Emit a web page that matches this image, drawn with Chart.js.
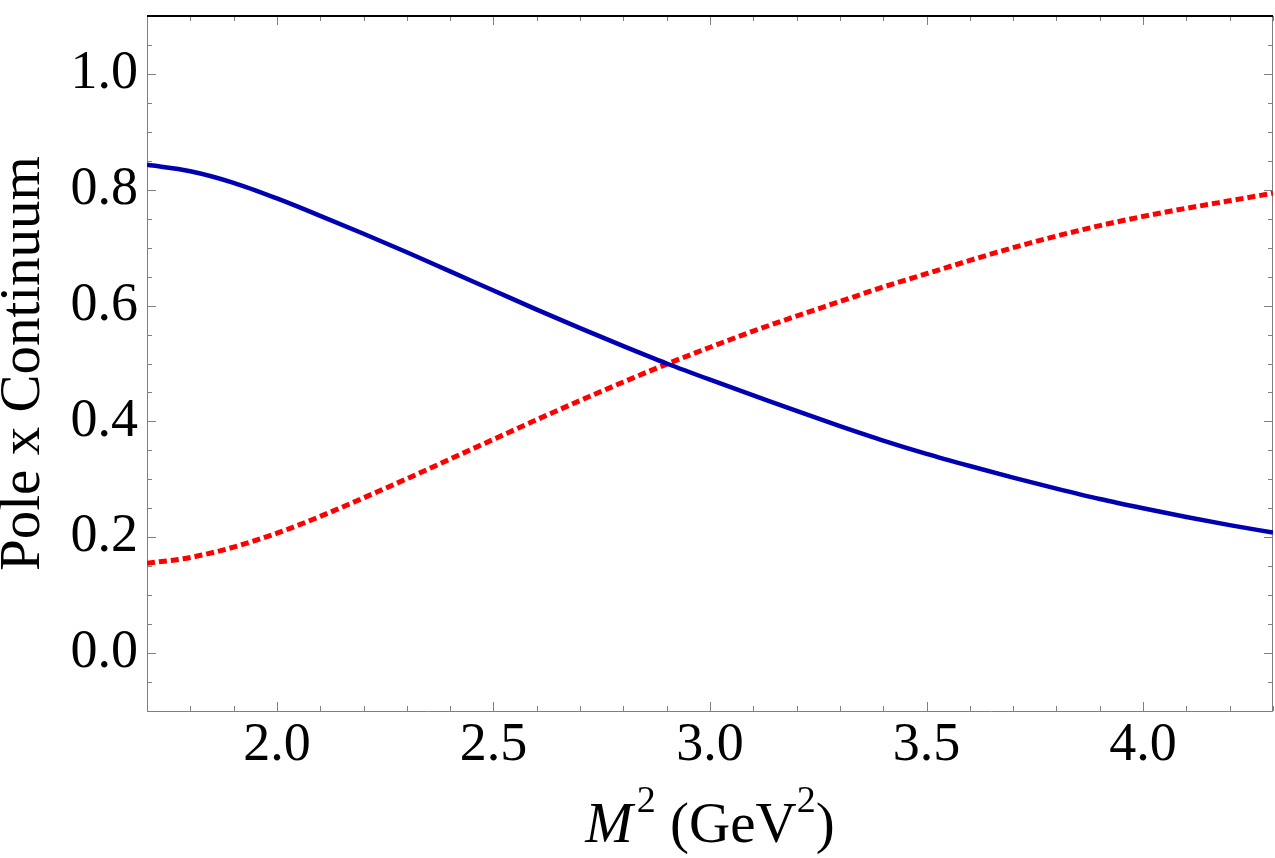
<!DOCTYPE html>
<html>
<head>
<meta charset="utf-8">
<script src="https://cdn.jsdelivr.net/npm/chart.js@4"></script>
<style>
  html, body { margin: 0; padding: 0; background: #fff; }
  #box { width: 1275px; height: 858px; }
</style>
</head>
<body>
<div id="box"><canvas id="grafico"></canvas></div>
<script>
// Borel mass M^2 (GeV^2)
let M2 = [1.7, 1.8, 1.9, 2.0, 2.1, 2.2, 2.3, 2.4, 2.5, 2.6, 2.7, 2.8, 2.9, 3.0,
          3.1, 3.2, 3.3, 3.4, 3.5, 3.6, 3.7, 3.8, 3.9, 4.0, 4.1, 4.2, 4.3];
// pole contribution (solid blue)
let Pole = [0.843, 0.832, 0.812, 0.785, 0.755, 0.724, 0.692, 0.659, 0.626, 0.593, 0.561, 0.530, 0.500, 0.472,
            0.445, 0.418, 0.392, 0.367, 0.344, 0.323, 0.303, 0.284, 0.266, 0.250, 0.235, 0.221, 0.208];
// continuum contribution (dotted red)
let Continuum = [0.155, 0.165, 0.183, 0.207, 0.236, 0.268, 0.301, 0.335, 0.369, 0.403, 0.436, 0.468, 0.499, 0.528,
                 0.556, 0.582, 0.607, 0.632, 0.655, 0.678, 0.700, 0.720, 0.738, 0.754, 0.768, 0.781, 0.794];

let xTicks = [2.0, 2.5, 3.0, 3.5, 4.0];
let yTicks = [0.0, 0.2, 0.4, 0.6, 0.8, 1.0];
let xRange = [1.7, 4.3];
let yRange = [-0.1, 1.1];

let tituloY = 'Pole x Continuum';
let tituloX = ['M', '2', ' (GeV', '2', ')'];

var serif = '"Liberation Serif", "Times New Roman", serif';

function pontos(xs, ys) {
  return xs.map((x, i) => ({x: x, y: ys[i]}));
}

// Mathematica-like frame: ticks pointing inwards on all four sides
var moldura = {
  id: 'moldura',
  beforeDatasetsDraw(chart) {
    var ctx = chart.ctx, a = chart.chartArea;
    var sx = chart.scales.x, sy = chart.scales.y;
    ctx.save();
    ctx.strokeStyle = '#7f7f7f';
    ctx.lineWidth = 1;
    ctx.beginPath();
    ctx.moveTo(a.left + 0.5, a.top);
    ctx.lineTo(a.left + 0.5, a.bottom + 0.5);
    ctx.lineTo(a.right - 0.5, a.bottom + 0.5);
    ctx.lineTo(a.right - 0.5, a.top);
    // x ticks every 0.1, major every 0.5
    for (var k = 17; k <= 43; k++) {
      var v = k / 10;
      var px = Math.round(sx.getPixelForValue(v)) + 0.5;
      var len = (k % 5 === 0) ? 9 : 5;
      ctx.moveTo(px, a.bottom);
      ctx.lineTo(px, a.bottom - len);
      ctx.moveTo(px, a.top);
      ctx.lineTo(px, a.top + len);
    }
    // y ticks every 0.05, major every 0.2
    for (var j = -2; j <= 22; j++) {
      var w = j / 20;
      var py = Math.round(sy.getPixelForValue(w)) + 0.5;
      var l2 = (j % 4 === 0) ? 9 : 5;
      ctx.moveTo(a.left, py);
      ctx.lineTo(a.left + l2, py);
      ctx.moveTo(a.right, py);
      ctx.lineTo(a.right - l2, py);
    }
    ctx.stroke();
    ctx.strokeStyle = '#000';
    ctx.lineWidth = 2;
    ctx.beginPath();
    ctx.moveTo(a.left, a.top);
    ctx.lineTo(a.right, a.top);
    ctx.stroke();
    ctx.restore();
  },
  afterDraw(chart) {
    // x title with italic M and superscripts
    var ctx = chart.ctx, a = chart.chartArea;
    var fonts = ['italic 57px ' + serif, '38px ' + serif, '57px ' + serif, '38px ' + serif, '57px ' + serif];
    var rise = [0, 30, 0, 30, 0];
    var gap = [4, 0, 0, 0, 0];
    ctx.save();
    ctx.fillStyle = '#000';
    ctx.textBaseline = 'alphabetic';
    var total = 0, larg = [];
    for (var i = 0; i < tituloX.length; i++) {
      ctx.font = fonts[i];
      larg[i] = ctx.measureText(tituloX[i]).width + gap[i];
      total += larg[i];
    }
    var x0 = (a.left + a.right) / 2 - total / 2;
    for (var i = 0; i < tituloX.length; i++) {
      ctx.font = fonts[i];
      ctx.fillText(tituloX[i], x0, 842 - rise[i]);
      x0 += larg[i];
    }
    ctx.restore();
  }
};

var ctx = document.getElementById('grafico').getContext('2d');
var chart = new Chart(ctx, {
  type: 'line',
  data: {
    datasets: [{
      label: 'Pole',
      data: pontos(M2, Pole),
      borderColor: 'rgb(0, 0, 178)',
      borderWidth: 4.5,
      pointRadius: 0,
      cubicInterpolationMode: 'monotone',
      fill: false
    }, {
      label: 'Continuum',
      data: pontos(M2, Continuum),
      borderColor: 'rgb(255, 0, 0)',
      borderWidth: 5,
      borderDash: [8, 4],
      pointRadius: 0,
      cubicInterpolationMode: 'monotone',
      fill: false
    }]
  },
  options: {
    responsive: true,
    maintainAspectRatio: false,
    animation: false,
    events: [],
    layout: { padding: { top: 16, right: 2, left: 0, bottom: 0 } },
    plugins: { legend: { display: false }, tooltip: { enabled: false } },
    scales: {
      x: {
        type: 'linear',
        min: xRange[0],
        max: xRange[1],
        afterBuildTicks: s => { s.ticks = xTicks.map(v => ({value: v})); },
        afterFit: s => { s.height = 147; s.paddingLeft = 0; s.paddingRight = 0; },
        grid: { display: false, drawTicks: false },
        border: { display: false },
        ticks: {
          autoSkip: false,
          maxRotation: 0,
          padding: 2,
          color: '#000',
          font: { family: serif, size: 54 },
          callback: v => v.toFixed(1)
        }
      },
      y: {
        min: yRange[0],
        max: yRange[1],
        afterBuildTicks: s => { s.ticks = yTicks.map(v => ({value: v})); },
        afterFit: s => { s.width = 147; s.paddingTop = 0; s.paddingBottom = 0; },
        grid: { display: false, drawTicks: false },
        border: { display: false },
        ticks: {
          autoSkip: false,
          padding: 9,
          color: '#000',
          font: { family: serif, size: 54 },
          callback: v => v.toFixed(1)
        },
        title: {
          display: true,
          text: tituloY,
          color: '#000',
          padding: { top: 1, bottom: 0 },
          font: { family: serif, size: 57, lineHeight: 0.8 }
        }
      }
    }
  },
  plugins: [moldura]
});
</script>
</body>
</html>
